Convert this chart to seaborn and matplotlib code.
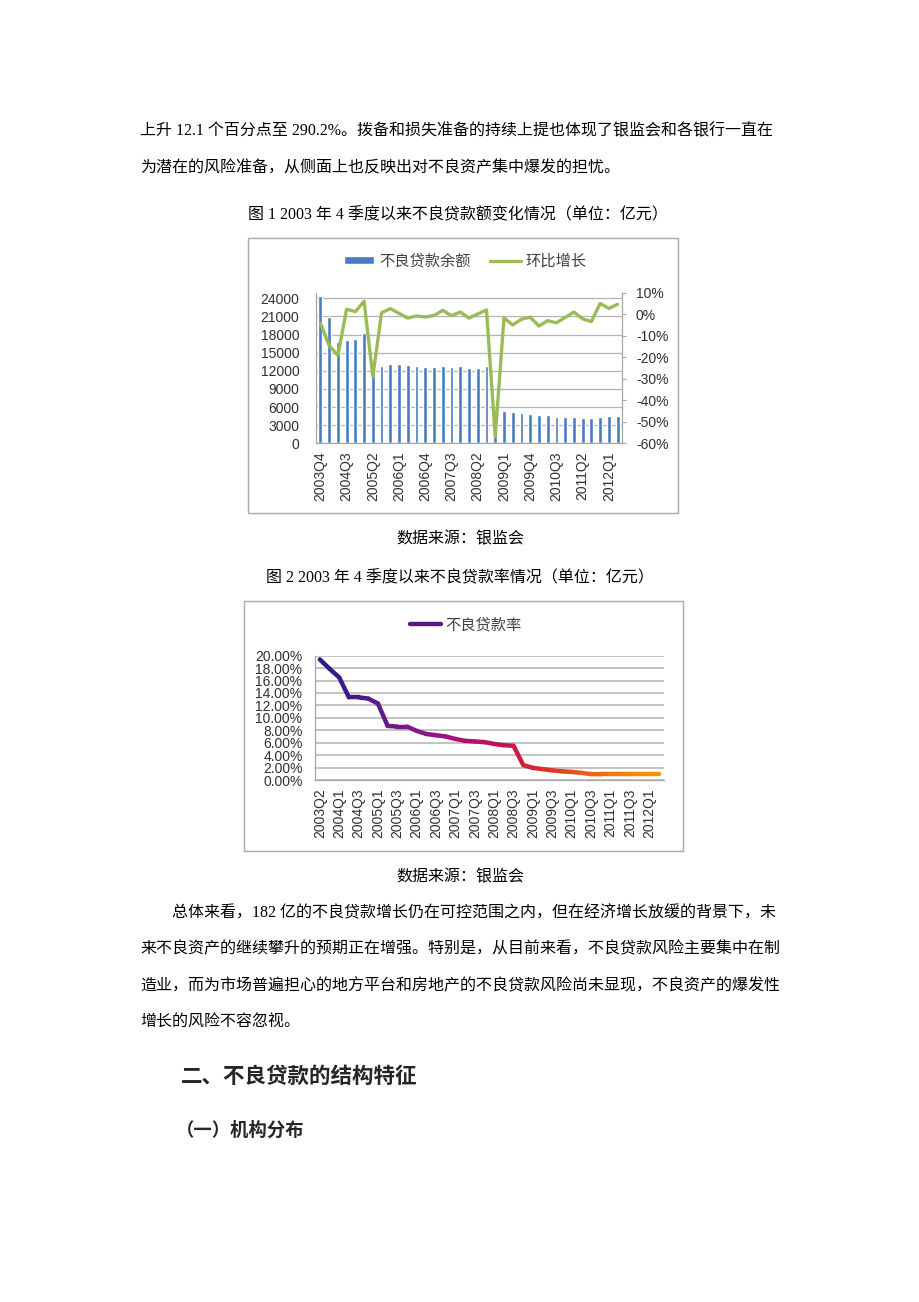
import numpy as np
import pandas as pd
import matplotlib
matplotlib.use('Agg')
import matplotlib.pyplot as plt
from matplotlib.patches import Rectangle, Patch
from matplotlib.lines import Line2D
from matplotlib.colors import LinearSegmentedColormap, to_hex
import seaborn as sns

sns.set_theme(style='white')
plt.rcParams['font.family'] = ['Liberation Sans', 'Noto Sans CJK SC', 'DejaVu Sans']

CJK = ['Noto Sans CJK SC', 'DejaVu Sans']
BODY = ['Liberation Serif', 'Noto Sans CJK SC', 'DejaVu Sans']

# ---- chart 1: NPL balance (100m yuan) and q/q growth (%)
quarters1 = ['2003Q4',
             '2004Q1', '2004Q2', '2004Q3', '2004Q4',
             '2005Q1', '2005Q2', '2005Q3', '2005Q4',
             '2006Q1', '2006Q2', '2006Q3', '2006Q4',
             '2007Q1', '2007Q2', '2007Q3', '2007Q4',
             '2008Q1', '2008Q2', '2008Q3', '2008Q4',
             '2009Q1', '2009Q2', '2009Q3', '2009Q4',
             '2010Q1', '2010Q2', '2010Q3', '2010Q4',
             '2011Q1', '2011Q2', '2011Q3', '2011Q4',
             '2012Q1', '2012Q2']
npl_amount = [24400, 20900, 16700, 17100, 17200, 18300, 12750, 12860, 13200, 13200,
              12900, 12750, 12600, 12600, 12800, 12700, 12800, 12500, 12500, 12800,
              5500, 5400, 5190, 5080, 4900, 4750, 4630, 4410, 4410, 4410,
              4250, 4140, 4360, 4470, 4580]
qoq_growth = [-4.2, -14.5, -19.2, 2.3, 1.2, 6.0, -29.0, 0.7, 2.6, 0.4,
              -1.8, -0.8, -1.3, -0.6, 1.8, -0.7, 1.0, -1.8, 0.1, 2.0,
              -56.9, -1.7, -5.0, -2.3, -1.4, -5.5, -3.0, -4.0, -1.5, 1.0,
              -2.2, -3.4, 5.0, 2.7, 4.6]
amount_ticks = [0, 3000, 6000, 9000, 12000, 15000, 18000, 21000, 24000]
growth_ticks = [-60, -50, -40, -30, -20, -10, 0, 10]

# ---- chart 2: NPL ratio (%)
quarters2 = ['2003Q2', '2003Q4',
             '2004Q1', '2004Q2', '2004Q3', '2004Q4',
             '2005Q1', '2005Q2', '2005Q3', '2005Q4',
             '2006Q1', '2006Q2', '2006Q3', '2006Q4',
             '2007Q1', '2007Q2', '2007Q3', '2007Q4',
             '2008Q1', '2008Q2', '2008Q3', '2008Q4',
             '2009Q1', '2009Q2', '2009Q3', '2009Q4',
             '2010Q1', '2010Q2', '2010Q3', '2010Q4',
             '2011Q1', '2011Q2', '2011Q3', '2011Q4',
             '2012Q1', '2012Q2']
npl_ratio = [19.4, 17.9, 16.5, 13.3, 13.3, 13.1, 12.3, 8.7, 8.6, 8.6,
             7.9, 7.4, 7.2, 7.0, 6.6, 6.3, 6.2, 6.1, 5.8, 5.6,
             5.5, 2.4, 1.95, 1.75, 1.55, 1.4, 1.3, 1.15, 0.95, 0.92,
             0.92, 0.92, 0.92, 0.92, 0.92, 0.92]
ratio_ticks = [0, 2, 4, 6, 8, 10, 12, 14, 16, 18, 20]

W, H = 920, 1302
fig = plt.figure(figsize=(W / 100, H / 100), dpi=100)


def fx(x):
    return x / W


def fy(y):
    return 1 - y / H


def frame(x0, y0, x1, y1):
    fig.add_artist(Rectangle((fx(x0), fy(y1)), (x1 - x0) / W, (y1 - y0) / H,
                             transform=fig.transFigure, fill=False,
                             ec='#a9a9a9', lw=1.0))


tick_col = '#303030'
grid_col = '#b4b4b4'
axis_col = '#a6a6a6'

# ================= chart 1 =================
frame(248, 238, 678, 513)
ax1 = fig.add_axes([fx(316), fy(443.3), 306 / W, 150.6 / H])
df1 = pd.DataFrame({'quarter': quarters1, 'amount': npl_amount, 'growth': qoq_growth})
sns.barplot(data=df1, x='quarter', y='amount', color='#4a7dbf', saturation=1,
            width=0.44, ax=ax1, zorder=2)
ax1.set_xlim(-0.5, len(quarters1) - 0.5)
ax1.set_ylim(0, 24930)
ax1.set_yticks(amount_ticks)
ax1.set_yticklabels([str(v) for v in amount_ticks])
ax1.set_xticks(range(0, len(quarters1), 3))
ax1.set_xticklabels(quarters1[::3], rotation=90)
ax1.set_xticks(np.arange(-0.5, len(quarters1), 1), minor=True)
ax1.grid(axis='y', color=grid_col, lw=0.9)
ax1.set_axisbelow(True)
ax1.set_xlabel('')
ax1.set_ylabel('')
ax1.tick_params(axis='y', length=0, pad=12, labelsize=10, colors=tick_col)
ax1.tick_params(axis='x', which='major', length=0, pad=6, labelsize=10, colors=tick_col)
ax1.tick_params(axis='x', which='minor', length=3, width=0.8, color=axis_col, direction='out')
for s in ['top', 'right']:
    ax1.spines[s].set_visible(False)
for s in ['left', 'bottom']:
    ax1.spines[s].set_color(axis_col)
    ax1.spines[s].set_linewidth(0.9)

ax2 = ax1.twinx()
sns.lineplot(x=np.arange(len(quarters1)), y=np.array(qoq_growth) / 100, ax=ax2,
             color='#9bbb59', lw=2.4)
ax2.set_xlim(-0.5, len(quarters1) - 0.5)
ax2.set_ylim(-0.6, 0.1)
ax2.set_yticks([v / 100 for v in growth_ticks])
ax2.set_yticklabels([f'{v}%' for v in growth_ticks])
ax2.set_ylabel('')
ax2.tick_params(axis='y', length=3, width=0.8, color=axis_col, pad=7,
                labelsize=10, colors=tick_col)
ax2.tick_params(axis='y', color=axis_col)
for s in ['top', 'left', 'bottom']:
    ax2.spines[s].set_visible(False)
ax2.spines['right'].set_color(axis_col)
ax2.spines['right'].set_linewidth(0.9)
ax2.grid(False)

fig.legend(handles=[Patch(facecolor='#4a7dbf', label='不良贷款余额'),
                    Line2D([0], [0], color='#9bbb59', lw=2.4, label='环比增长')],
           loc='center', bbox_to_anchor=(fx(465), fy(261)), ncol=2, frameon=False,
           prop={'family': CJK, 'size': 11}, labelcolor='#404040',
           handlelength=2.0, handleheight=0.45, handletextpad=0.3, columnspacing=1.3)

# ================= chart 2 =================
frame(244, 601, 683, 851)
ax3 = fig.add_axes([fx(315), fy(780), 348.7 / W, 124.3 / H])

# gradient line: one short segment per pair of neighbouring quarters
grad = LinearSegmentedColormap.from_list('npl', [
    (0.00, '#2a1c86'), (0.12, '#4a1a8e'), (0.25, '#7b1a8a'), (0.40, '#a8137a'),
    (0.55, '#c81052'), (0.64, '#d8232e'), (0.76, '#e8501a'), (0.88, '#f07810'),
    (1.00, '#f59400')])
rows = []
n_seg = len(npl_ratio) - 1
for k in range(n_seg):
    for j in (k, k + 1):
        rows.append({'pos': j, 'rate': npl_ratio[j] / 100, 'seg': f's{k:02d}'})
seg_df = pd.DataFrame(rows)
seg_pal = {f's{k:02d}': to_hex(grad(k / (n_seg - 1))) for k in range(n_seg)}
sns.lineplot(data=seg_df, x='pos', y='rate', hue='seg', palette=seg_pal, legend=False,
             lw=3.2, ax=ax3, solid_capstyle='round', sort=False, zorder=3)

ax3.set_xlim(-0.5, len(quarters2) - 0.5)
ax3.set_ylim(0, 0.2)
ax3.set_yticks([v / 100 for v in ratio_ticks])
ax3.set_yticklabels([f'{v:.2f}%' for v in ratio_ticks])
ax3.set_xticks(range(0, len(quarters2), 2))
ax3.set_xticklabels(quarters2[::2], rotation=90)
ax3.set_xticks(np.arange(-0.5, len(quarters2), 1), minor=True)
ax3.grid(axis='y', color=grid_col, lw=1.1)
ax3.set_axisbelow(True)
ax3.set_xlabel('')
ax3.set_ylabel('')
ax3.tick_params(axis='y', length=0, pad=9, labelsize=10, colors=tick_col)
ax3.tick_params(axis='x', which='major', length=0, pad=6, labelsize=10, colors=tick_col)
ax3.tick_params(axis='x', which='minor', length=3, width=0.8, color=axis_col, direction='out')
for s in ['top', 'right']:
    ax3.spines[s].set_visible(False)
for s in ['left', 'bottom']:
    ax3.spines[s].set_color(axis_col)
    ax3.spines[s].set_linewidth(0.9)

fig.legend(handles=[Line2D([0], [0], color='#5a1a82', lw=3.2, label='不良贷款率')],
           loc='center', bbox_to_anchor=(fx(466), fy(625)), frameon=False,
           prop={'family': CJK, 'size': 11}, labelcolor='#404040',
           handlelength=2.0, handletextpad=0.3)

# ================= page text =================
body = dict(fontsize=11.5, va='center', family=BODY, color='black')
fig.text(fx(140), fy(131), '上升 12.1 个百分点至 290.2%。拨备和损失准备的持续上提也体现了银监会和各银行一直在', ha='left', **body)
fig.text(fx(140), fy(168), '为潜在的风险准备，从侧面上也反映出对不良资产集中爆发的担忧。', ha='left', **body)
fig.text(fx(458), fy(215), '图 1 2003 年 4 季度以来不良贷款额变化情况（单位：亿元）', ha='center', **body)
fig.text(fx(460), fy(539), '数据来源：银监会', ha='center', **body)
fig.text(fx(460), fy(578), '图 2 2003 年 4 季度以来不良贷款率情况（单位：亿元）', ha='center', **body)
fig.text(fx(460), fy(877), '数据来源：银监会', ha='center', **body)
fig.text(fx(172), fy(913), '总体来看，182 亿的不良贷款增长仍在可控范围之内，但在经济增长放缓的背景下，未', ha='left', **body)
fig.text(fx(140), fy(949), '来不良资产的继续攀升的预期正在增强。特别是，从目前来看，不良贷款风险主要集中在制', ha='left', **body)
fig.text(fx(140), fy(986), '造业，而为市场普遍担心的地方平台和房地产的不良贷款风险尚未显现，不良资产的爆发性', ha='left', **body)
fig.text(fx(140), fy(1022), '增长的风险不容忽视。', ha='left', **body)
fig.text(fx(181), fy(1076), '二、不良贷款的结构特征', ha='left', va='center', family=CJK,
         fontsize=15.5, fontweight='bold')
fig.text(fx(176), fy(1130), '（一）机构分布', ha='left', va='center', family=CJK,
         fontsize=13.2, fontweight='bold')

fig.savefig('out.png', dpi=100, facecolor='white')
